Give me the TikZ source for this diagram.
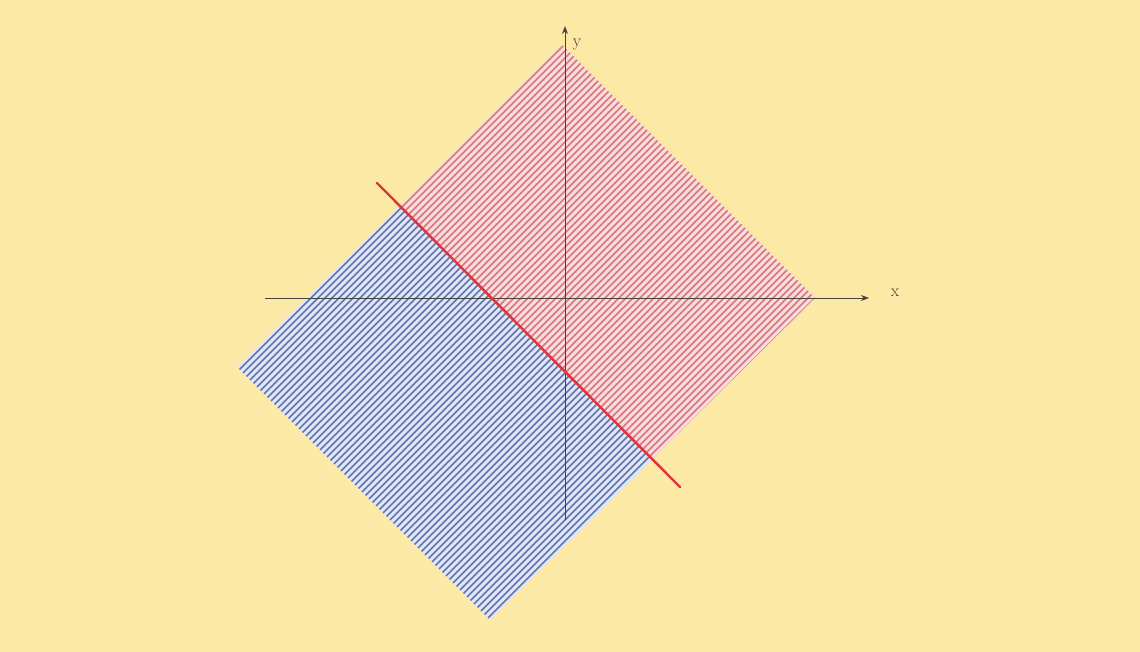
\documentclass[tikz,border=0pt]{standalone}
\usetikzlibrary{arrows.meta}
\definecolor{bgyellow}{RGB}{252,233,166}
\definecolor{pinkbg}{RGB}{250,220,220}
\definecolor{pinkline}{RGB}{214,118,126}
\definecolor{bluebg}{RGB}{222,230,248}
\definecolor{blueline}{RGB}{98,116,172}
\definecolor{axisgray}{RGB}{70,66,60}
\definecolor{cutred}{RGB}{224,52,58}
\tikzset{
  axisline/.style={draw=axisgray, line width=1pt, -{Stealth[length=8pt,width=6pt]}},
  axislabel/.style={font=\LARGE, text=axisgray, inner sep=1pt},
  hatchline/.style={line width=1.6pt},
  cutline/.style={draw=cutred, line width=2.4pt, line cap=round},
}
\begin{document}
\begin{tikzpicture}[x=1pt,y=-1pt]
\fill[bgyellow] (0,0) rectangle (1140,652);
\useasboundingbox (0,0) rectangle (1140,652);
% corners of the tilted square
\coordinate (T) at (562,45);
\coordinate (R) at (815,298);
\coordinate (B) at (490,620);
\coordinate (L) at (237,367);
% red region (upper right of the cut line)
\begin{scope}
  \clip (T) -- (R) -- (B) -- (L) -- cycle;
  \clip (100,-94) -- (1100,906) -- (1100,-94) -- cycle;
  \fill[pinkbg] (0,0) rectangle (1140,652);
  \foreach \c in {560,567,...,1160} {
    \draw[hatchline, pinkline] (\c,0) -- (0,\c);
  }
\end{scope}
% blue region (lower left of the cut line)
\begin{scope}
  \clip (T) -- (R) -- (B) -- (L) -- cycle;
  \clip (100,-94) -- (1100,906) -- (0,906) -- (0,-94) -- cycle;
  \fill[bluebg] (0,0) rectangle (1140,652);
  \foreach \c in {560,567,...,1160} {
    \draw[hatchline, blueline] (\c,0) -- (0,\c);
  }
\end{scope}
% axes
\coordinate (xs) at (265,298);
\coordinate (xe) at (869,298);
\coordinate (ys) at (565,520);
\coordinate (ye) at (565,26);
\draw[axisline] (xs) -- (xe);
\draw[axisline] (ys) -- (ye);
\node[axislabel] (xl) at (895,293) {x};
\node[axislabel] (yl) at (577,45) {y};
% cut line
\coordinate (c1) at (377,183);
\coordinate (c2) at (680,487);
\draw[cutline] (c1) -- (c2);
\end{tikzpicture}
\end{document}
